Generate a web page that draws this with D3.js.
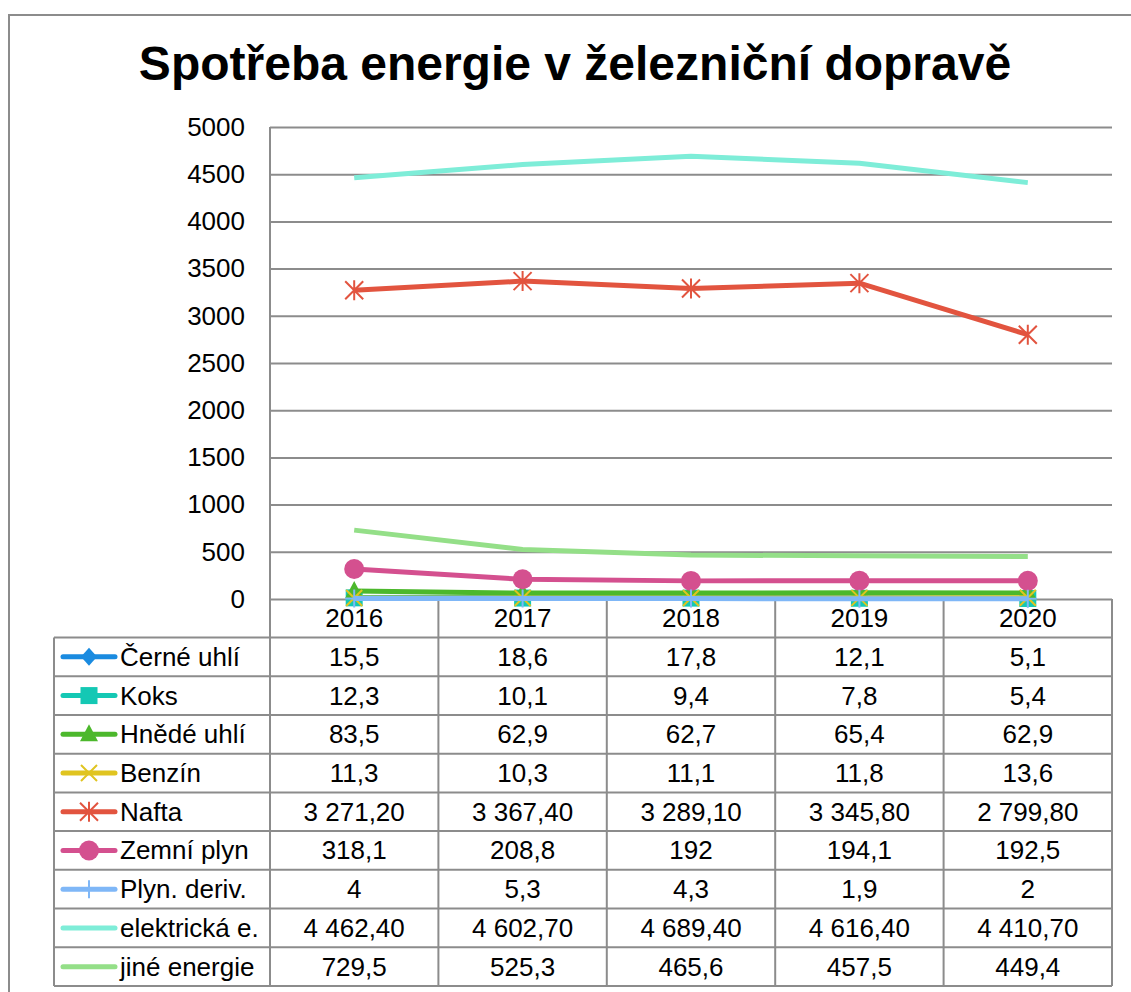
<!DOCTYPE html>
<html><head><meta charset="utf-8">
<script src="https://cdn.jsdelivr.net/npm/d3@7"></script>
<style>body{margin:0;background:#fff}svg{display:block;font-family:"Liberation Sans",Arial,sans-serif}</style>
</head><body><svg id="c" width="1131" height="992"></svg>
<script>
const years = ["2016","2017","2018","2019","2020"];
const seriesNames = ["Černé uhlí","Koks","Hnědé uhlí","Benzín","Nafta","Zemní plyn","Plyn. deriv.","elektrická e.","jiné energie"];
const cerneUhli = [15.5,18.6,17.8,12.1,5.1];
const koks = [12.3,10.1,9.4,7.8,5.4];
const hnedeUhli = [83.5,62.9,62.7,65.4,62.9];
const benzin = [11.3,10.3,11.1,11.8,13.6];
const nafta = [3271.2,3367.4,3289.1,3345.8,2799.8];
const zemniPlyn = [318.1,208.8,192,194.1,192.5];
const plynDeriv = [4,5.3,4.3,1.9,2];
const elektricka = [4462.4,4602.7,4689.4,4616.4,4410.7];
const jineEnergie = [729.5,525.3,465.6,457.5,449.4];
const yTicks = [0,500,1000,1500,2000,2500,3000,3500,4000,4500,5000];
const title = "Spotřeba energie v železniční dopravě";

const seriesValues = [cerneUhli,koks,hnedeUhli,benzin,nafta,zemniPlyn,plynDeriv,elektricka,jineEnergie];
const colors = ["#1a8be0","#14c8b4","#4cb82c","#e0c420","#e2543f","#d4508f","#7fb7f7","#7eedd8","#94df88"];
const markers = ["diamond","square","triangle","x","star","circle","plus",null,null];

const svg = d3.select("#c");
const gray = "#8c8c8c";
const FS = 26;
const L = 270, R = 1112, T = 127, B = 599;
const x = d3.scaleBand().domain(years).range([L,R]).padding(0);
const cx = d => x(d) + x.bandwidth()/2;
const y = d3.scaleLinear().domain([0,5000]).range([B,T]);

// outer border
svg.append("path").attr("d","M9,992 V15 H1135").attr("fill","none").attr("stroke",gray).attr("stroke-width",2);

// title
svg.append("text").attr("x",575).attr("y",80).attr("text-anchor","middle")
  .attr("font-size",48).attr("font-weight","bold").attr("fill","#000").text(title);

// gridlines
const yAxis = d3.axisLeft(y).tickValues(yTicks).tickSize(-(R-L)).tickFormat(d3.format("d")).tickPadding(25);
const ga = svg.append("g").attr("transform",`translate(${L},0)`).call(yAxis);
ga.select(".domain").remove();
ga.selectAll(".tick line").attr("stroke",gray).attr("stroke-width",2);
ga.selectAll(".tick text").attr("font-size",FS).attr("fill","#000").attr("font-family","Liberation Sans, Arial, sans-serif");
// left axis line
svg.append("line").attr("x1",L).attr("x2",L).attr("y1",T).attr("y2",B).attr("stroke",gray).attr("stroke-width",2);

// table
const rowH = (986-637.5)/9;
const tableTop = 637.5, tableLeft = 54, tableBottom = tableTop + rowH*9;
const tg = svg.append("g");
for (let i=0;i<=9;i++){
  const yy = tableTop + i*rowH;
  tg.append("line").attr("x1",tableLeft).attr("x2",R).attr("y1",yy).attr("y2",yy).attr("stroke",gray).attr("stroke-width",2);
}
tg.append("line").attr("x1",tableLeft).attr("x2",tableLeft).attr("y1",tableTop).attr("y2",tableBottom).attr("stroke",gray).attr("stroke-width",2);
[...years.map(d=>x(d)), R].forEach(xx=>{
  tg.append("line").attr("x1",xx).attr("x2",xx).attr("y1",B).attr("y2",tableBottom).attr("stroke",gray).attr("stroke-width",2);
});
years.forEach(yr=>{
  tg.append("text").attr("x",cx(yr)).attr("y",(B+tableTop)/2+9).attr("text-anchor","middle").attr("font-size",FS).text(yr);
});
const fmtBig = d3.formatLocale({decimal:",",thousands:"\u00a0",grouping:[3],currency:["",""]}).format(",.2f");
const fmt = v => v >= 1000 ? fmtBig(v) : String(v).replace(".",",");

function marker(g, type, color, px, py){
  if (!type) return;
  if (type==="diamond") g.append("path").attr("d",`M${px},${py-9}L${px+8},${py}L${px},${py+9}L${px-8},${py}Z`).attr("fill",color);
  else if (type==="square") g.append("rect").attr("x",px-8.5).attr("y",py-8.5).attr("width",17).attr("height",17).attr("fill",color);
  else if (type==="triangle") g.append("path").attr("d",`M${px},${py-10}L${px+9},${py+7}L${px-9},${py+7}Z`).attr("fill",color);
  else if (type==="circle") g.append("circle").attr("cx",px).attr("cy",py).attr("r",10).attr("fill",color);
  else if (type==="x") g.append("path").attr("d",`M${px-8},${py-8}L${px+8},${py+8}M${px-8},${py+8}L${px+8},${py-8}`).attr("stroke",color).attr("stroke-width",2);
  else if (type==="star") g.append("path").attr("d",`M${px-9},${py-9}L${px+9},${py+9}M${px-9},${py+9}L${px+9},${py-9}M${px},${py-10}L${px},${py+10}`).attr("stroke",color).attr("stroke-width",2);
  else if (type==="plus") g.append("path").attr("d",`M${px-9},${py}L${px+9},${py}M${px},${py-9}L${px},${py+9}`).attr("stroke",color).attr("stroke-width",2);
}

seriesNames.forEach((name,i)=>{
  const yc = tableTop + rowH*(i+0.5);
  const lg = tg.append("g");
  lg.append("line").attr("x1",63).attr("x2",115).attr("y1",yc).attr("y2",yc).attr("stroke",colors[i]).attr("stroke-width",5).attr("stroke-linecap","round");
  marker(lg, markers[i], colors[i], 89, yc);
  tg.append("text").attr("x",120).attr("y",yc+9).attr("font-size",FS).text(name);
  seriesValues[i].forEach((v,j)=>{
    tg.append("text").attr("x",cx(years[j])).attr("y",yc+9).attr("text-anchor","middle").attr("font-size",FS).text(fmt(v));
  });
});

const line = d3.line().x((d,j)=>cx(years[j])).y(d=>y(d));
const lg2 = svg.append("g");
seriesValues.forEach((vals,i)=>{
  const g = lg2.append("g");
  g.append("path").attr("d",line(vals)).attr("fill","none").attr("stroke",colors[i]).attr("stroke-width",5).attr("stroke-linejoin","round");
  vals.forEach((v,j)=>marker(g, markers[i], colors[i], cx(years[j]), y(v)));
});
</script></body></html>
